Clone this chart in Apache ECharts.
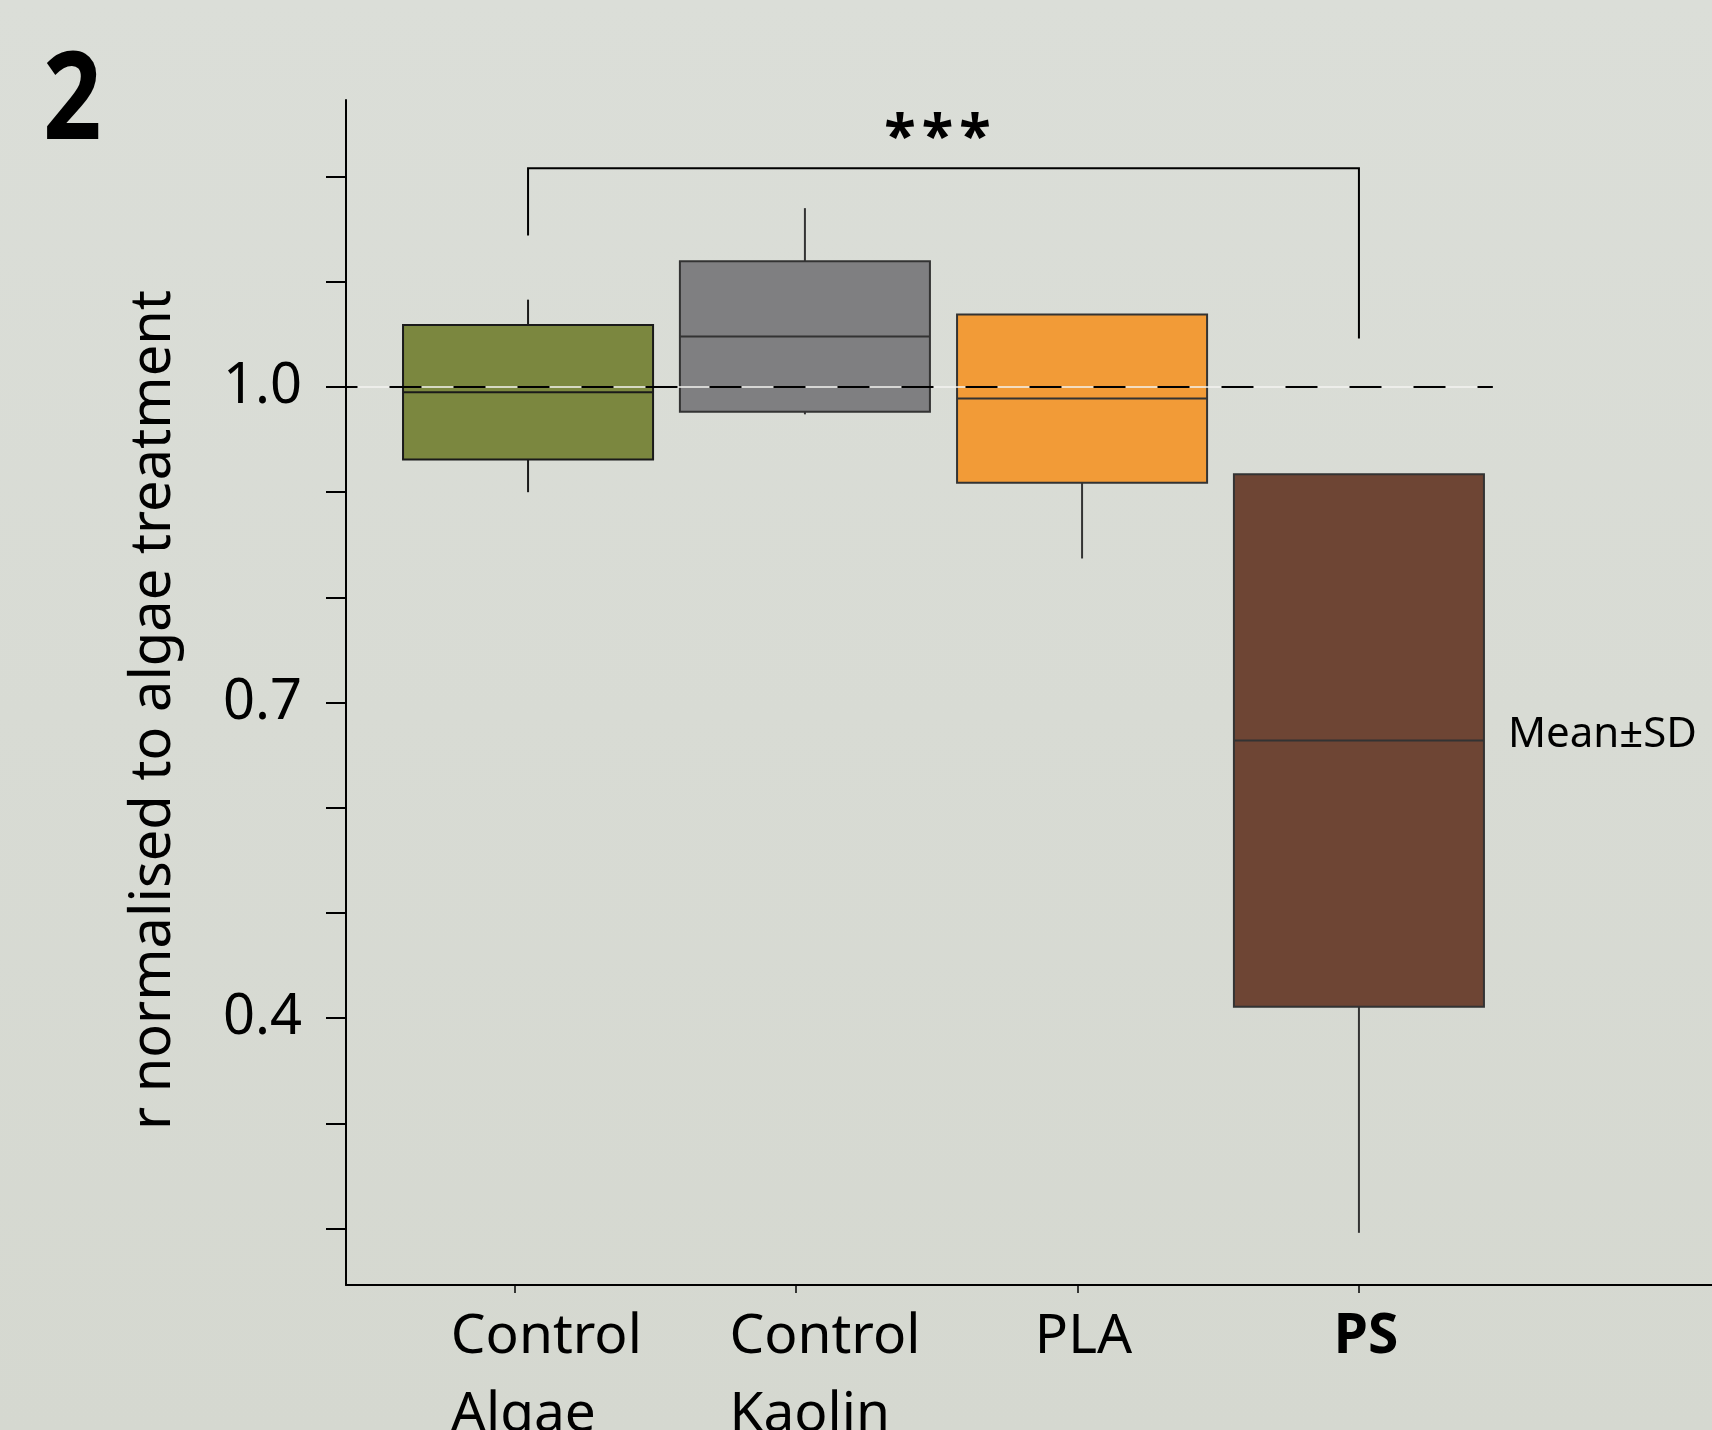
<!DOCTYPE html>
<html>
<head>
<meta charset="utf-8">
<script src="https://cdn.jsdelivr.net/npm/echarts/dist/echarts.min.js"></script>
<style>
html,body{margin:0;padding:0;background:#d8dbd4;}
#chart{width:1712px;height:1430px;}
</style>
</head>
<body>
<div id="chart"></div>
<script>
// ---- data ----
const categories = ['Control\nAlgae', 'Control\nKaolin', 'PLA', 'PS'];
const boldCategory = 'PS';
const boxPos = [1.047, 2.031, 3.016, 4.0];        // x position of each box (axis units)
const means = [0.995, 1.048, 0.989, 0.664];
const sds = [0.064, 0.0715, 0.080, 0.253];
const whiskerHigh = [1.083, 1.170, 1.069, 0.917];
const whiskerLow = [0.900, 0.974, 0.837, 0.196];
const yTickValues = [0.2, 0.3, 0.4, 0.5, 0.6, 0.7, 0.8, 0.9, 1.0, 1.1, 1.2];
const yLabelValues = [0.4, 0.7, 1.0];
const xTickValues = [1, 2, 3, 4];
const xLabelPos = [1.112, 2.102, 3.021, 4.025];
const refValue = 1.0;
const refEnd = 4.476;
const bracketPair = [0, 3];
const bracketTop = 1.208;
const bracketLegEnds = [1.144, 1.046];
const bracketText = '***';
const statLabel = 'Mean±SD';
const statLabelIndex = 3;
const panelLabel = '2';
const yTitle = 'r normalised to algae treatment';

// ---- styles ----
const fills = ['#7b873f', '#7f7f81', '#f29b37', '#6e4534'];
const strokes = ['#1a1a1a', '#333333', '#333333', '#333333'];
const FONT = '"Noto Sans", "Open Sans", sans-serif';
const X_MIN = 0.4, X_MAX = 5.2548, Y_MIN = 0.1464, Y_MAX = 1.2728;
const HALF_W = 0.4443;

const boxData = boxPos.map((x, i) => [x, means[i], sds[i], whiskerLow[i], whiskerHigh[i]]);

const chart = echarts.init(document.getElementById('chart'));

const labelRich = {
  l: { align: 'left', fontFamily: FONT, fontSize: 55, lineHeight: 78, color: '#000' },
  b: { align: 'left', fontFamily: FONT, fontSize: 55, lineHeight: 78, color: '#000', fontWeight: 'bold' }
};

const option = {
  backgroundColor: {
    type: 'linear', x: 0, y: 0, x2: 0, y2: 1,
    colorStops: [{ offset: 0, color: '#dbded8' }, { offset: 1, color: '#d5d8d0' }]
  },
  animation: false,
  grid: { left: 346, right: 0, top: 100, bottom: 145, containLabel: false, outerBoundsMode: 'none' },
  xAxis: {
    type: 'value', min: X_MIN, max: X_MAX,
    splitLine: { show: false },
    axisLine: { show: true, lineStyle: { color: '#000', width: 2 } },
    axisTick: { show: true, length: 8, lineStyle: { color: '#000', width: 1.5 }, customValues: xTickValues },
    axisLabel: {
      customValues: xLabelPos,
      margin: 13,
      fontFamily: FONT, fontSize: 55, lineHeight: 78, color: '#000',
      formatter: function (v) {
        let best = 0, d = Infinity;
        xLabelPos.forEach((p, i) => { if (Math.abs(p - v) < d) { d = Math.abs(p - v); best = i; } });
        const name = categories[best];
        const key = name === boldCategory ? 'b' : 'l';
        return name.split('\n').map(s => '{' + key + '|' + s + '}').join('\n');
      },
      rich: labelRich
    }
  },
  yAxis: {
    type: 'value', min: Y_MIN, max: Y_MAX,
    splitLine: { show: false },
    axisLine: { show: true, lineStyle: { color: '#000', width: 2 } },
    axisTick: { show: true, length: 20, lineStyle: { color: '#000', width: 2 }, customValues: yTickValues },
    axisLabel: {
      customValues: yLabelValues,
      margin: 44,
      fontFamily: FONT, fontSize: 56, color: '#000',
      formatter: v => Number(v).toFixed(1)
    }
  },
  graphic: [
    {
      type: 'text', x: 43, y: 43, scaleX: 0.84,
      style: { text: panelLabel, font: 'bold 122px ' + FONT, fill: '#000',
        align: 'left', verticalAlign: 'top', textAlign: 'left', textVerticalAlign: 'top' }
    },
    {
      type: 'text', x: 154, y: 710, rotation: Math.PI / 2,
      style: {
        text: yTitle, font: '56px ' + FONT, fill: '#000',
        align: 'center', verticalAlign: 'middle',
        textAlign: 'center', textVerticalAlign: 'middle'
      }
    }
  ],
  series: [
    {
      type: 'custom',
      name: 'boxes',
      z: 2,
      data: boxData,
      encode: { x: 0, y: 1 },
      renderItem: function (params, api) {
        const i = params.dataIndex;
        const x = api.value(0), m = api.value(1), sd = api.value(2), wl = api.value(3), wh = api.value(4);
        const tl = api.coord([x - HALF_W, m + sd]);
        const br = api.coord([x + HALF_W, m - sd]);
        const mid = api.coord([x, m]);
        const top = api.coord([x, wh]);
        const bot = api.coord([x, wl]);
        const children = [];
        if (top[1] < tl[1] - 0.5) {
          children.push({ type: 'line', shape: { x1: mid[0], y1: tl[1], x2: mid[0], y2: top[1] },
            style: { stroke: strokes[i], lineWidth: 2 } });
        }
        if (bot[1] > br[1] + 0.5) {
          children.push({ type: 'line', shape: { x1: mid[0], y1: br[1], x2: mid[0], y2: bot[1] },
            style: { stroke: strokes[i], lineWidth: 2 } });
        }
        children.push({ type: 'rect', shape: { x: tl[0], y: tl[1], width: br[0] - tl[0], height: br[1] - tl[1] },
          style: { fill: fills[i], stroke: strokes[i], lineWidth: 2 } });
        children.push({ type: 'line', shape: { x1: tl[0], y1: mid[1], x2: br[0], y2: mid[1] },
          style: { stroke: strokes[i], lineWidth: 2 } });
        if (i === statLabelIndex) {
          children.push({ type: 'text', x: br[0] + 24, y: mid[1] - 5,
            style: { text: statLabel, font: '42px ' + FONT, fill: '#000', align: 'left', verticalAlign: 'middle',
              textAlign: 'left', textVerticalAlign: 'middle' } });
        }
        return { type: 'group', children: children };
      }
    },
    {
      type: 'line', name: 'ref-white', z: 3, silent: true, symbol: 'none',
      data: [[X_MIN, refValue], [refEnd, refValue]],
      lineStyle: { color: '#f3f3f0', width: 1.5 }
    },
    {
      type: 'line', name: 'ref-dash', z: 4, silent: true, symbol: 'none',
      data: [[X_MIN, refValue], [refEnd, refValue]],
      lineStyle: { color: '#000', width: 2, type: [32, 32], dashOffset: 20.5 }
    },
    {
      type: 'custom', name: 'bracket', z: 5, silent: true,
      data: [[boxPos[bracketPair[0]], boxPos[bracketPair[1]], bracketTop, bracketLegEnds[0], bracketLegEnds[1]]],
      encode: { x: 0, y: 2 },
      renderItem: function (params, api) {
        const a = api.coord([api.value(0), api.value(3)]);
        const b = api.coord([api.value(0), api.value(2)]);
        const c = api.coord([api.value(1), api.value(2)]);
        const d = api.coord([api.value(1), api.value(4)]);
        const cx = (b[0] + c[0]) / 2 - 6;
        const children = [{
          type: 'polyline',
          shape: { points: [a, b, c, d] },
          style: { stroke: '#000', lineWidth: 2, fill: null }
        }];
        const stars = bracketText.split('');
        stars.forEach((s, k) => {
          children.push({ type: 'text', x: cx + (k - (stars.length - 1) / 2) * 37.5, y: b[1] - 29,
            style: { text: s, font: 'bold 58px ' + FONT, fill: '#000', align: 'center', verticalAlign: 'middle',
              textAlign: 'center', textVerticalAlign: 'middle' } });
        });
        return { type: 'group', children: children };
      }
    }
  ]
};

chart.setOption(option);
</script>
</body>
</html>
